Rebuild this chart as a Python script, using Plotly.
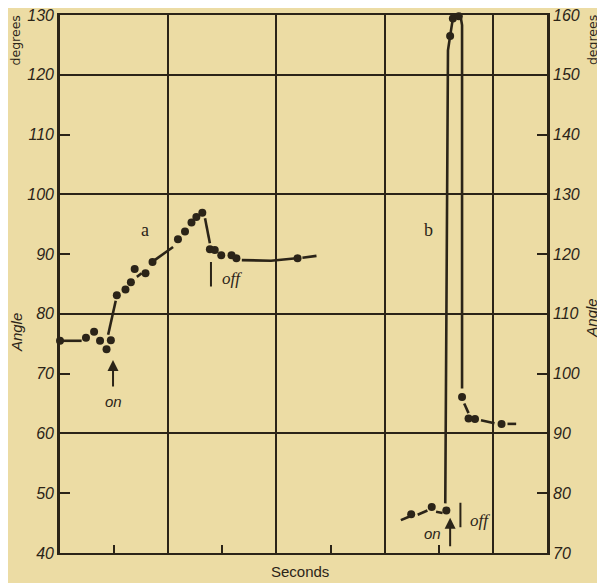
import plotly.graph_objects as go

# ---- data -------------------------------------------------------------
left_ticks = [40, 50, 60, 70, 80, 90, 100, 110, 120, 130]
right_ticks = [70, 80, 90, 100, 110, 120, 130, 140, 150, 160]
left_grid = [60, 80, 100, 120]
x_grid = [2, 4, 6, 8]
x_minor = [1, 3, 5, 7]

# curve a (left axis, degrees)
a_dot_x = [0.0, 0.48, 0.63, 0.74, 0.86, 0.94, 1.05, 1.21, 1.31, 1.38, 1.58, 1.71,
           2.18, 2.31, 2.43, 2.52, 2.63, 2.77, 2.86, 2.98, 3.17, 3.26, 4.39]
a_dot_y = [75.5, 76.0, 77.0, 75.5, 74.1, 75.6, 83.1, 84.1, 85.3, 87.5, 86.8, 88.7,
           92.5, 93.8, 95.3, 96.2, 96.9, 90.8, 90.7, 89.8, 89.8, 89.3, 89.3]
a_line_x = [0.05, 0.40, None, 0.89, 1.03, None, 1.42, 1.51, None, 1.75, 2.09, None,
            2.68, 2.77, None, 2.77, 2.86, None, 2.96, 3.02, None, 3.17, 3.26, None,
            3.36, 3.90, 4.37, None, 4.48, 4.74]
a_line_y = [75.5, 75.5, None, 76.5, 82.2, None, 86.2, 86.8, None, 89.0, 91.2, None,
            96.0, 91.8, None, 90.8, 90.7, None, 90.0, 89.5, None, 89.8, 89.3, None,
            89.0, 88.9, 89.3, None, 89.4, 89.7]

# curve b (right axis, degrees)
b_dot_x = [6.49, 6.87, 7.14, 7.21, 7.26, 7.37, 7.43, 7.55, 7.67, 8.16]
b_dot_y = [76.5, 77.7, 77.1, 156.5, 159.4, 159.8, 96.1, 92.5, 92.4, 91.6]
b_line_x = [6.30, 6.46, None, 6.61, 6.79, None, 6.95, 7.07, None,
            7.12, 7.17, 7.21, 7.26, 7.37, 7.41, 7.43, 7.43, None,
            7.47, 7.55, None, 7.78, 8.03, None, 8.27, 8.43]
b_line_y = [75.5, 76.1, None, 76.4, 77.1, None, 76.9, 76.7, None,
            78.3, 154.1, 156.5, 159.4, 159.8, 159.4, 158.3, 97.5, None,
            95.0, 93.4, None, 92.2, 91.7, None, 91.6, 91.6]

# ---- style ------------------------------------------------------------
BG = "#ECDCA4"
INK = "#2B2418"
SANS = "Liberation Sans"
TICKFONT = dict(family=SANS, size=16, color=INK, style="italic")

fig = go.Figure()
fig.add_trace(go.Scatter(x=a_line_x, y=a_line_y, mode="lines", xaxis="x", yaxis="y",
                         line=dict(color=INK, width=2.6), connectgaps=False,
                         hoverinfo="skip", showlegend=False, cliponaxis=False))
fig.add_trace(go.Scatter(x=a_dot_x, y=a_dot_y, mode="markers", xaxis="x", yaxis="y3",
                         marker=dict(color=INK, size=8), showlegend=False,
                         cliponaxis=False))
fig.add_trace(go.Scatter(x=b_line_x, y=b_line_y, mode="lines", xaxis="x", yaxis="y2",
                         line=dict(color=INK, width=2.6), connectgaps=False,
                         hoverinfo="skip", showlegend=False, cliponaxis=False))
fig.add_trace(go.Scatter(x=b_dot_x, y=b_dot_y, mode="markers", xaxis="x", yaxis="y2",
                         marker=dict(color=INK, size=8), showlegend=False,
                         cliponaxis=False))

# the page adds an 8px body margin, so the figure is sized 8px smaller
fig.update_layout(
    width=597, height=575,
    margin=dict(l=52, r=58, t=7, b=30, autoexpand=False),
    paper_bgcolor=BG, plot_bgcolor=BG,
    showlegend=False,
    xaxis=dict(range=[0, 9], tickmode="array", tickvals=x_grid, ticks="",
               showticklabels=False, showgrid=True, gridcolor=INK, gridwidth=1.5,
               zeroline=False, showline=True, linewidth=2.4, linecolor=INK,
               mirror=True, automargin=False,
               minor=dict(tickmode="array", tickvals=x_minor, ticks="inside",
                          ticklen=8, tickwidth=1.5, tickcolor=INK, showgrid=False)),
    yaxis=dict(range=[40, 130], tickmode="array", tickvals=left_ticks,
               ticktext=[str(v) for v in left_ticks], ticks="inside", ticklen=10,
               tickwidth=1.5, tickcolor=INK, tickfont=TICKFONT, showgrid=False,
               zeroline=False, showline=True, linewidth=2.6, linecolor=INK,
               anchor="x", automargin=False, ticklabeloverflow="allow"),
    yaxis2=dict(range=[70, 160], overlaying="y", side="right", anchor="x",
                tickmode="array", tickvals=right_ticks,
                ticktext=[str(v) for v in right_ticks], ticks="inside", ticklen=10,
                tickwidth=1.5, tickcolor=INK, tickfont=TICKFONT, showgrid=False,
                zeroline=False, showline=True, linewidth=2.6, linecolor=INK,
                automargin=False, ticklabeloverflow="allow"),
    yaxis3=dict(range=[40, 130], overlaying="y", side="left", anchor="x",
                tickmode="array", tickvals=left_grid, ticks="", showticklabels=False,
                showgrid=True, gridcolor=INK, gridwidth=1.5, zeroline=False,
                showline=False, automargin=False),
)

ann = []
# axis labels (paper coords relative to the plotting area)
ann.append(dict(text="degrees", xref="paper", yref="paper", x=-0.092, y=0.953,
                xanchor="center", yanchor="middle", textangle=-90, showarrow=False,
                font=dict(family="DejaVu Sans", size=12.5, color=INK)))
ann.append(dict(text="Angle", xref="paper", yref="paper", x=-0.089, y=0.41,
                xanchor="center", yanchor="middle", textangle=-90, showarrow=False,
                font=dict(family=SANS, size=15, color=INK, style="italic")))
ann.append(dict(text="degrees", xref="paper", yref="paper", x=1.092, y=0.953,
                xanchor="center", yanchor="middle", textangle=-90, showarrow=False,
                font=dict(family="DejaVu Sans", size=12.5, color=INK)))
ann.append(dict(text="Angle", xref="paper", yref="paper", x=1.092, y=0.437,
                xanchor="center", yanchor="middle", textangle=-90, showarrow=False,
                font=dict(family=SANS, size=15, color=INK, style="italic")))
ann.append(dict(text="Seconds", xref="paper", yref="paper", x=0.493, y=-0.035,
                xanchor="center", yanchor="middle", showarrow=False,
                font=dict(family=SANS, size=15, color=INK)))
# curve labels
ann.append(dict(text="a", x=1.57, y=94.0, xref="x", yref="y", showarrow=False,
                font=dict(family="Liberation Serif", size=18, color=INK)))
ann.append(dict(text="b", x=6.81, y=94.0, xref="x", yref="y", showarrow=False,
                font=dict(family="Liberation Serif", size=18, color=INK)))
# on / off markers
ann.append(dict(text="", x=0.98, y=72.3, xref="x", yref="y", showarrow=True,
                ax=0, ay=28, arrowhead=2, arrowsize=1.1, arrowwidth=2,
                arrowcolor=INK, standoff=0))
ann.append(dict(text="on", x=0.98, y=65.3, xref="x", yref="y", showarrow=False,
                font=dict(family=SANS, size=15, color=INK, style="italic")))
ann.append(dict(text="", x=7.21, y=45.9, xref="x", yref="y", showarrow=True,
                ax=0, ay=30, arrowhead=2, arrowsize=1.1, arrowwidth=2,
                arrowcolor=INK, standoff=0))
ann.append(dict(text="on", x=6.88, y=43.3, xref="x", yref="y", showarrow=False,
                font=dict(family=SANS, size=15, color=INK, style="italic")))
ann.append(dict(text="", x=2.79, y=88.7, xref="x", yref="y", showarrow=True,
                ax=0, ay=26, arrowhead=0, arrowwidth=2, arrowcolor=INK, standoff=0))
ann.append(dict(text="off", x=3.17, y=86.0, xref="x", yref="y", showarrow=False,
                font=dict(family="Liberation Serif", size=17, color=INK, style="italic")))
ann.append(dict(text="", x=7.40, y=48.4, xref="x", yref="y", showarrow=True,
                ax=0, ay=26, arrowhead=0, arrowwidth=2, arrowcolor=INK, standoff=0))
ann.append(dict(text="off", x=7.77, y=45.5, xref="x", yref="y", showarrow=False,
                font=dict(family="Liberation Serif", size=17, color=INK, style="italic")))
fig.update_layout(annotations=ann)

fig.write_html("out.html")
